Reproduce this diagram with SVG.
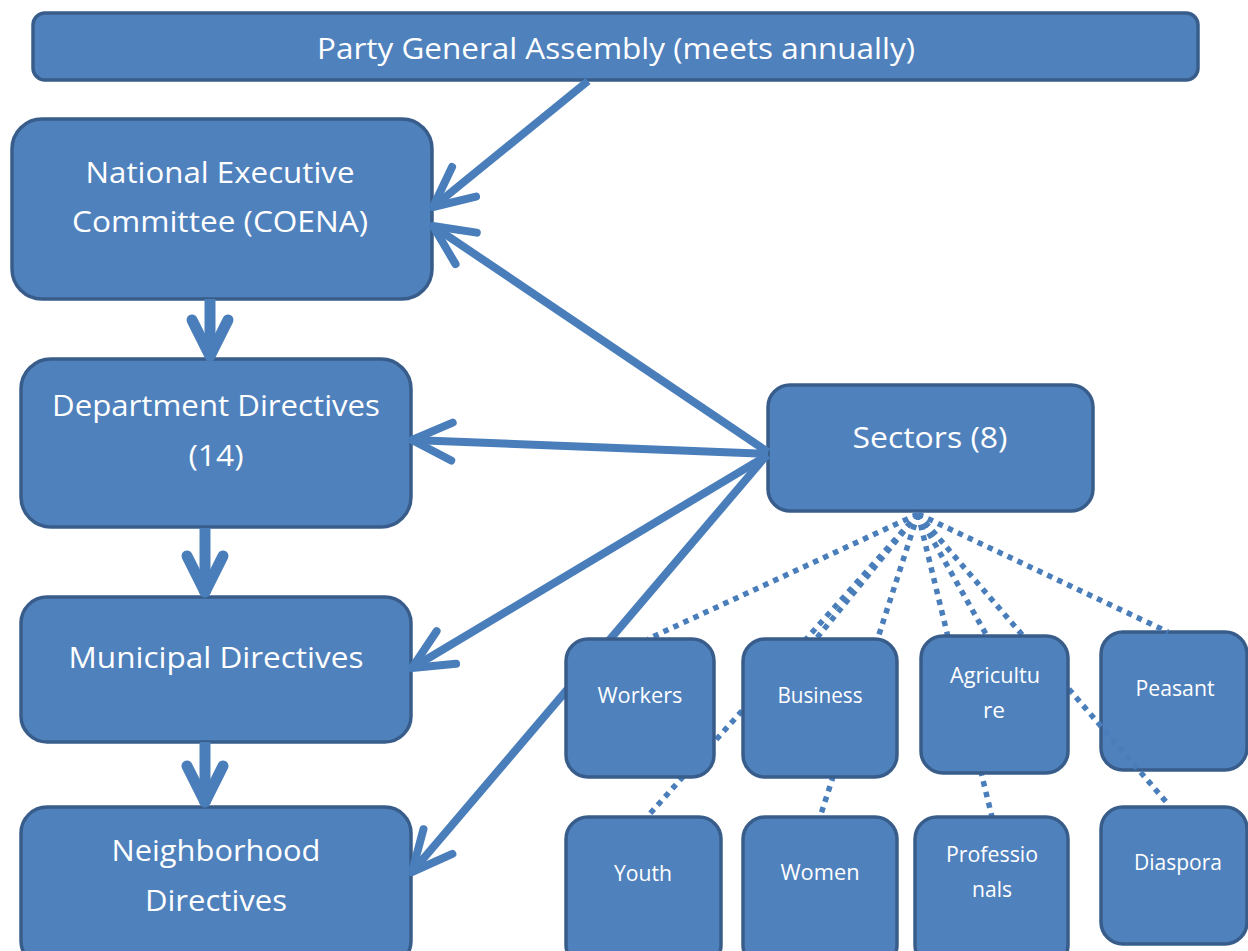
<svg xmlns="http://www.w3.org/2000/svg" width="1248" height="951" viewBox="0 0 1248 951">
<style>
.box{fill:#4f81bd;stroke:#385d8a;stroke-width:3.5}
.t{fill:#ffffff;font-family:"Open Sans","Noto Sans","DejaVu Sans",sans-serif;text-anchor:middle}
.big{font-size:30px}
.sm{font-size:21px}
.arr{fill:none;stroke:#4a7ebb;stroke-width:8;marker-end:url(#ah)}
.dn{fill:none;stroke:#4a7ebb;stroke-width:11;marker-end:url(#ahd)}
.dot{fill:none;stroke:#4a7ebb;stroke-width:5.5;stroke-dasharray:5.5 5.5}
</style>
<defs>
<marker id="ah" markerUnits="userSpaceOnUse" viewBox="-50 -30 60 60" markerWidth="60" markerHeight="60" refX="0" refY="0" orient="auto">
<path d="M-40,-19 L0,0 L-40,19" fill="none" stroke="#4a7ebb" stroke-width="8" stroke-linecap="round" stroke-linejoin="round"/>
</marker>
<marker id="ahd" markerUnits="userSpaceOnUse" viewBox="-50 -30 60 60" markerWidth="60" markerHeight="60" refX="0" refY="0" orient="auto">
<path d="M-38,-18 L-2,0 L-38,18" fill="none" stroke="#4a7ebb" stroke-width="11" stroke-linecap="round" stroke-linejoin="round"/>
</marker>
</defs>

<g id="assembly">
<rect class="box" x="33" y="13" width="1165" height="67" rx="12"/>
<text class="t big" x="616" y="59" textLength="598" lengthAdjust="spacingAndGlyphs">Party General Assembly (meets annually)</text>
</g>
<g id="coena">
<rect class="box" x="12" y="119" width="420" height="180" rx="30"/>
<text class="t big" x="220" y="183" textLength="269" lengthAdjust="spacingAndGlyphs">National Executive</text>
<text class="t big" x="220" y="232" textLength="296" lengthAdjust="spacingAndGlyphs">Committee (COENA)</text>
</g>
<g id="department">
<rect class="box" x="21" y="359" width="390" height="168" rx="30"/>
<text class="t big" x="216" y="416" textLength="328" lengthAdjust="spacingAndGlyphs">Department Directives</text>
<text class="t big" x="216" y="466" textLength="55" lengthAdjust="spacingAndGlyphs">(14)</text>
</g>
<g id="municipal">
<rect class="box" x="21" y="597" width="390" height="145" rx="26"/>
<text class="t big" x="216" y="668" textLength="295" lengthAdjust="spacingAndGlyphs">Municipal Directives</text>
</g>
<g id="neighborhood">
<rect class="box" x="21" y="807" width="390" height="160" rx="26"/>
<text class="t big" x="216" y="861" textLength="209" lengthAdjust="spacingAndGlyphs">Neighborhood</text>
<text class="t big" x="216" y="911" textLength="142" lengthAdjust="spacingAndGlyphs">Directives</text>
</g>
<g id="sectors">
<rect class="box" x="768" y="385" width="325" height="126" rx="22"/>
<text class="t big" x="930" y="448" textLength="155" lengthAdjust="spacingAndGlyphs">Sectors (8)</text>
</g>
<g id="peasant">
<rect class="box" x="1101" y="632" width="146" height="138" rx="22"/>
<text class="t sm" x="1175" y="696" textLength="79" lengthAdjust="spacingAndGlyphs">Peasant</text>
</g>

<g id="connectors">
<path class="dot" d="M918,514 L648,639"/>
<path class="dot" d="M918,514 L816,639"/>
<path class="dot" d="M918,514 L987,636"/>
<path class="dot" d="M918,514 L1168,632"/>
<path class="dot" d="M918,514 L647,817"/>
<path class="dot" d="M918,514 L820,817"/>
<path class="dot" d="M918,514 L992,817"/>
<path class="dot" d="M918,514 L1168,804"/>
<path class="arr" d="M588,81 L433,207"/>
<path class="arr" d="M768,452 L433,226"/>
<path class="arr" d="M768,454 L412,440"/>
<path class="arr" d="M768,455 L412,668"/>
<path class="arr" d="M766,456 L412,872"/>
<path class="dn" d="M210,299 L210,358"/>
<path class="dn" d="M205,528 L205,594"/>
<path class="dn" d="M205,742 L205,804"/>
</g>

<g id="workers">
<rect class="box" x="566" y="639" width="148" height="138" rx="22"/>
<text class="t sm" x="640" y="703" textLength="85" lengthAdjust="spacingAndGlyphs">Workers</text>
</g>
<g id="business">
<rect class="box" x="743" y="639" width="154" height="138" rx="22"/>
<text class="t sm" x="820" y="703" textLength="85" lengthAdjust="spacingAndGlyphs">Business</text>
</g>
<g id="agriculture">
<rect class="box" x="921" y="636" width="147" height="137" rx="22"/>
<text class="t sm" x="995" y="683" textLength="90" lengthAdjust="spacingAndGlyphs">Agricultu</text>
<text class="t sm" x="994" y="718" textLength="22" lengthAdjust="spacingAndGlyphs">re</text>
</g>
<g id="youth">
<rect class="box" x="566" y="817" width="155" height="150" rx="22"/>
<text class="t sm" x="643" y="881" textLength="58" lengthAdjust="spacingAndGlyphs">Youth</text>
</g>
<g id="women">
<rect class="box" x="743" y="817" width="154" height="150" rx="22"/>
<text class="t sm" x="820" y="880" textLength="79" lengthAdjust="spacingAndGlyphs">Women</text>
</g>
<g id="professionals">
<rect class="box" x="915" y="817" width="153" height="150" rx="22"/>
<text class="t sm" x="992" y="862" textLength="92" lengthAdjust="spacingAndGlyphs">Professio</text>
<text class="t sm" x="992" y="897" textLength="40" lengthAdjust="spacingAndGlyphs">nals</text>
</g>
<g id="diaspora">
<rect class="box" x="1101" y="807" width="146" height="137" rx="22"/>
<text class="t sm" x="1178" y="870" textLength="88" lengthAdjust="spacingAndGlyphs">Diaspora</text>
</g>
</svg>
